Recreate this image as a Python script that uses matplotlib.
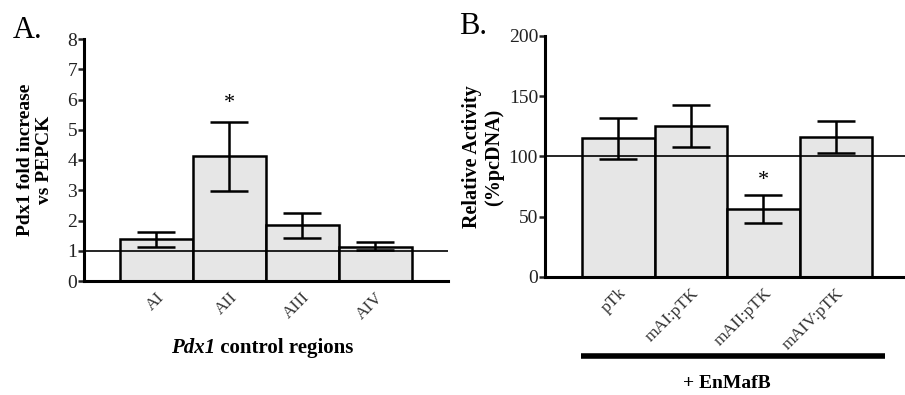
import matplotlib
matplotlib.use("Agg")
import matplotlib.pyplot as plt
import numpy as np

plt.rcParams['font.family'] = ['Liberation Serif', 'DejaVu Serif']

# Panel A data
cats_a = ["AI", "AII", "AIII", "AIV"]
vals_a = [1.40, 4.14, 1.85, 1.13]
err_hi_a = [1.63, 5.27, 2.26, 1.28]
err_lo_a = [1.13, 2.98, 1.43, 1.02]
yticks_a = [0, 1, 2, 3, 4, 5, 6, 7, 8]
ref_a = 1.0
sig_a = [False, True, False, False]

# Panel B data
cats_b = ["pTk", "mAI:pTK", "mAII:pTK", "mAIV:pTK"]
vals_b = [115.0, 125.2, 56.0, 116.3]
err_hi_b = [131.6, 142.4, 67.9, 129.4]
err_lo_b = [97.8, 107.8, 44.9, 102.5]
yticks_b = [0, 50, 100, 150, 200]
ref_b = 100.0
sig_b = [False, False, True, False]

W, H = 905, 395
fig = plt.figure(figsize=(W / 100, H / 100), dpi=100)

BAR_COLOR = "#e6e6e6"
LW = 1.8
TICK_FS = 14
XT_FS = 12.5
LABEL_FS = 14.5


def setup(ax, cats, vals, hi, lo, yticks, ref, sig, star_off):
    x = np.arange(len(cats))
    vals = np.array(vals)
    yerr = np.array([vals - np.array(lo), np.array(hi) - vals])
    ax.bar(x, vals, width=1.0, color=BAR_COLOR, edgecolor="black", linewidth=LW, zorder=2)
    ax.errorbar(x, vals, yerr=yerr, fmt="none", ecolor="black", elinewidth=LW,
                capsize=13.5, capthick=LW, zorder=3)
    ax.axhline(ref, color="black", linewidth=1.2, zorder=4)
    for xi, s, h in zip(x, sig, hi):
        if s:
            ax.text(xi, h + star_off, "*", ha="center", va="center", fontsize=16)
    for side in ("top", "right"):
        ax.spines[side].set_visible(False)
    for side in ("left", "bottom"):
        ax.spines[side].set_linewidth(2.2)
    ax.set_yticks(yticks)
    ax.set_ylim(yticks[0], yticks[-1])
    ax.tick_params(axis="y", direction="out", length=4, width=LW, labelsize=TICK_FS, pad=1, colors="#222222")
    ax.tick_params(axis="x", length=0, pad=6)
    ax.set_xticks(x)
    ax.set_xticklabels(cats, rotation=45, ha="right", rotation_mode="anchor", fontsize=XT_FS, color="#333333")
    ax.patch.set_alpha(0)


# Panel A
axA = fig.add_axes([84 / W, (H - 281) / H, (448 - 84) / W, (281 - 39) / H])
axA.set_xlim(-0.99, 4.0)
setup(axA, cats_a, vals_a, err_hi_a, err_lo_a, yticks_a, ref_a, sig_a, 0.6)

fig.text(35 / W, 1 - 160 / H, "Pdx1 fold increase\nvs PEPCK", rotation=90, ha="center", va="center",
         fontsize=14, fontweight="bold", linespacing=1.15)
t1 = fig.text(171 / W, 1 - 348 / H, "Pdx1", fontsize=15, fontweight="bold", fontstyle="italic",
              ha="left", va="center")
fig.canvas.draw()
axA.annotate(" control regions", xy=(1, 0.5), xycoords=t1, ha="left", va="center",
             fontsize=15, fontweight="bold")
fig.text(13 / W, 1 - 30 / H, "A.", fontsize=22, ha="left", va="center")

# Panel B
axB = fig.add_axes([545 / W, (H - 276.7) / H, (905 - 545) / W, (276.7 - 36) / H])
axB.set_xlim(-1.01, 3.95)
setup(axB, cats_b, vals_b, err_hi_b, err_lo_b, yticks_b, ref_b, sig_b, 12)

fig.text(483 / W, 1 - 157 / H, "Relative Activity\n(%pcDNA)", rotation=90, ha="center", va="center",
         fontsize=LABEL_FS, fontweight="bold", linespacing=1.15)
fig.text(459 / W, 1 - 26 / H, "B.", fontsize=22, ha="left", va="center")

# treatment bar under panel B labels
fig.add_artist(plt.Line2D([580.7 / W, 885 / W], [1 - 356 / H, 1 - 356 / H], color="black",
                          linewidth=4, solid_capstyle="butt"))
fig.text(727 / W, 1 - 384 / H, "+ EnMafB", ha="center", va="center", fontsize=14, fontweight="bold")

fig.savefig("out.png", dpi=100)
